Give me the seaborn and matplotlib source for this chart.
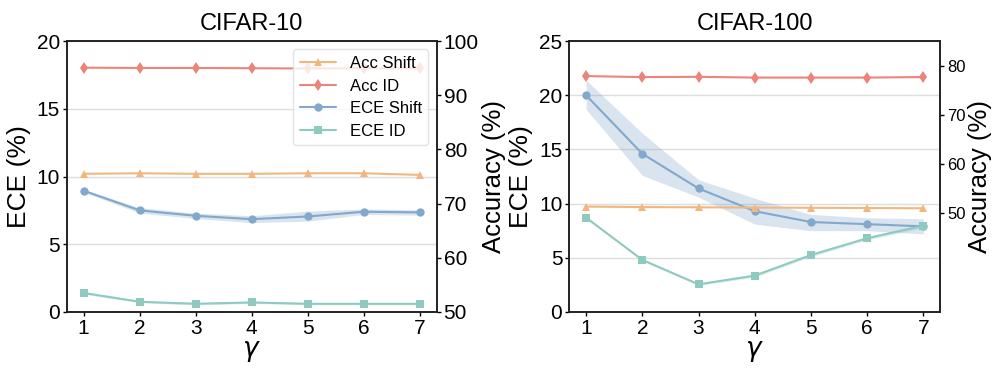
import numpy as np
import pandas as pd
import matplotlib
matplotlib.use("Agg")
import matplotlib.pyplot as plt
import seaborn as sns

gamma = [1, 2, 3, 4, 5, 6, 7]

# CIFAR-10
c10_acc_shift = [75.5, 75.6, 75.5, 75.5, 75.6, 75.6, 75.3]
c10_acc_id = [95.1, 95.05, 95.05, 95.0, 94.95, 95.0, 94.95]
c10_ece_shift = [8.95, 7.5, 7.1, 6.85, 7.05, 7.4, 7.35]
c10_ece_shift_lo = [8.85, 7.3, 6.9, 6.6, 6.7, 7.2, 7.15]
c10_ece_shift_hi = [9.05, 7.7, 7.3, 7.1, 7.45, 7.6, 7.55]
c10_ece_id = [1.4, 0.75, 0.6, 0.7, 0.6, 0.6, 0.6]
c10_ece_id_lo = [1.3, 0.68, 0.5, 0.62, 0.52, 0.52, 0.52]
c10_ece_id_hi = [1.5, 0.82, 0.7, 0.78, 0.68, 0.68, 0.68]

# CIFAR-100
c100_acc_shift = [51.4, 51.3, 51.25, 51.2, 51.15, 51.1, 51.05]
c100_acc_id = [77.9, 77.7, 77.75, 77.6, 77.6, 77.6, 77.7]
c100_ece_shift = [20.0, 14.6, 11.4, 9.3, 8.3, 8.1, 7.9]
c100_ece_shift_lo = [18.7, 12.6, 10.6, 8.1, 7.5, 7.5, 7.2]
c100_ece_shift_hi = [21.4, 16.5, 12.2, 10.5, 9.0, 8.7, 8.6]
c100_ece_id = [8.7, 4.8, 2.55, 3.35, 5.25, 6.8, 7.95]
c100_ece_id_lo = [8.6, 4.7, 2.45, 3.2, 5.1, 6.65, 7.75]
c100_ece_id_hi = [8.8, 4.9, 2.65, 3.5, 5.4, 6.95, 8.15]

titles = ["CIFAR-10", "CIFAR-100"]
series_names = ["Acc Shift", "Acc ID", "ECE Shift", "ECE ID"]

col_acc_shift = "#F2B77F"
col_acc_id = "#EC8479"
col_ece_shift = "#82A8CB"
col_ece_id = "#8FCAC0"

sns.set_theme(style="white")
plt.rcParams['font.family'] = ['Liberation Sans', 'DejaVu Sans']
plt.rcParams['text.color'] = 'black'
plt.rcParams['axes.labelcolor'] = 'black'
plt.rcParams['xtick.color'] = 'black'
plt.rcParams['ytick.color'] = 'black'
plt.rcParams['axes.titlecolor'] = 'black'

fig = plt.figure(figsize=(9.97, 3.74), dpi=100)
ax_l = fig.add_axes([0.067, 0.166, 0.371, 0.724])
ax_r = fig.add_axes([0.571, 0.166, 0.372, 0.724])

panels = [
    dict(ax=ax_l, acc_shift=c10_acc_shift, acc_id=c10_acc_id,
         ece_shift=c10_ece_shift, es_lo=c10_ece_shift_lo, es_hi=c10_ece_shift_hi,
         ece_id=c10_ece_id, ei_lo=c10_ece_id_lo, ei_hi=c10_ece_id_hi,
         ece_lim=(0, 20), ece_ticks=[0, 5, 10, 15, 20],
         acc_lim=(50, 100), acc_ticks=[50, 60, 70, 80, 90, 100], acc_fs=15),
    dict(ax=ax_r, acc_shift=c100_acc_shift, acc_id=c100_acc_id,
         ece_shift=c100_ece_shift, es_lo=c100_ece_shift_lo, es_hi=c100_ece_shift_hi,
         ece_id=c100_ece_id, ei_lo=c100_ece_id_lo, ei_hi=c100_ece_id_hi,
         ece_lim=(0, 25), ece_ticks=[0, 5, 10, 15, 20, 25],
         acc_lim=(30, 85), acc_ticks=[50, 60, 70, 80], acc_fs=12),
]

for i, p in enumerate(panels):
    ax = p["ax"]
    ax.grid(axis="y", color="#dddddd", linewidth=1.0)
    ax.grid(axis="x", visible=False)
    ax.set_axisbelow(True)
    df_es = pd.DataFrame({"gamma": gamma, "val": p["ece_shift"]})
    df_ei = pd.DataFrame({"gamma": gamma, "val": p["ece_id"]})
    ax.fill_between(gamma, p["es_lo"], p["es_hi"], color=col_ece_shift, alpha=0.3, linewidth=0)
    ax.fill_between(gamma, p["ei_lo"], p["ei_hi"], color=col_ece_id, alpha=0.3, linewidth=0)
    sns.lineplot(data=df_es, x="gamma", y="val", ax=ax, color=col_ece_shift, marker="o",
                 markersize=6, markeredgewidth=0, linewidth=1.5, label="ECE Shift", legend=False)
    sns.lineplot(data=df_ei, x="gamma", y="val", ax=ax, color=col_ece_id, marker="s",
                 markersize=6, markeredgewidth=0, linewidth=1.5, label="ECE ID", legend=False)
    ax.set_ylim(*p["ece_lim"])
    ax.set_yticks(p["ece_ticks"])
    ax.set_xlim(0.7, 7.3)
    ax.set_xticks(gamma)
    ax.set_ylabel("ECE (%)", fontsize=19, labelpad=4)
    ax.set_xlabel(r"$\gamma$", fontsize=19, labelpad=1)
    ax.set_title(titles[i], fontsize=17, pad=8)
    ax.tick_params(axis="both", labelsize=15, length=3, width=1, direction="out",
                   left=True, bottom=True, pad=2, color="black")

    ax2 = ax.twinx()
    df_as = pd.DataFrame({"gamma": gamma, "val": p["acc_shift"]})
    df_ai = pd.DataFrame({"gamma": gamma, "val": p["acc_id"]})
    sns.lineplot(data=df_as, x="gamma", y="val", ax=ax2, color=col_acc_shift, marker="^",
                 markersize=6, markeredgewidth=0, linewidth=1.5, label="Acc Shift", legend=False)
    sns.lineplot(data=df_ai, x="gamma", y="val", ax=ax2, color=col_acc_id, marker="d",
                 markersize=6, markeredgewidth=0, linewidth=1.5, label="Acc ID", legend=False)
    ax2.set_ylim(*p["acc_lim"])
    ax2.set_yticks(p["acc_ticks"])
    ax2.set_ylabel("Accuracy (%)", fontsize=18.5, labelpad=2)
    ax2.tick_params(axis="y", labelsize=p["acc_fs"], length=3, width=1, direction="out",
                    right=True, pad=2, color="black")
    ax2.grid(False)
    for a in (ax, ax2):
        for s in a.spines.values():
            s.set_color("#222222")
            s.set_linewidth(1.2)

    if i == 0:
        h1, l1 = ax.get_legend_handles_labels()
        h2, l2 = ax2.get_legend_handles_labels()
        handles = dict(zip(l1 + l2, h1 + h2))
        leg = ax2.legend([handles[n] for n in series_names], series_names,
                         loc="upper right", fontsize=12, frameon=True,
                         borderaxespad=0.5, handlelength=2.2, labelspacing=0.45)
        leg.get_frame().set_edgecolor("#dddddd")

fig.savefig("out.png", dpi=100)
